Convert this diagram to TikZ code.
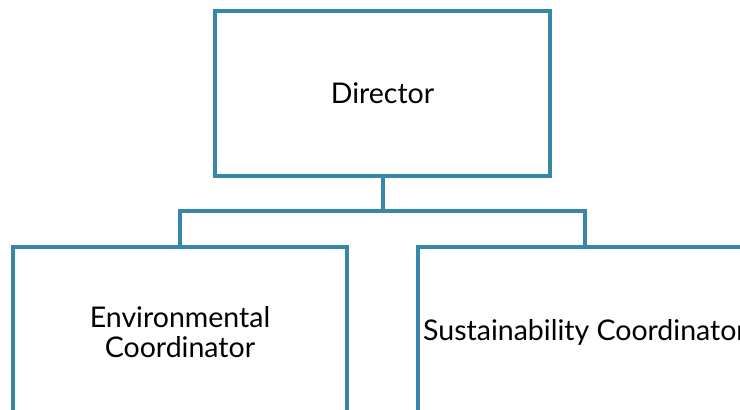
\documentclass[tikz,border=0pt]{standalone}
\usepackage{fontspec}
\setmainfont{Lato}
\definecolor{chartblue}{RGB}{54,135,168}
\tikzset{
  chart-line/.style={
    line width=4pt,
    draw=chartblue
  },
  chart-box/.style={
    chart-line,
    rectangle,
    fill=white,
    inner sep=0pt,
    align=center,
    font=\fontsize{28.5}{30}\selectfont
  },
  top-box/.style={chart-box, minimum width=335pt, minimum height=165pt},
  sub-box/.style={chart-box, minimum width=334pt, minimum height=170pt}
}
\begin{document}
\begin{tikzpicture}[x=1pt, y=-1pt]
  \useasboundingbox (0,0) rectangle (740,410);
  \clip (0,0) rectangle (740,410);

  \node[top-box] (director) at (382.5,93.5) {Director};
  \node[sub-box] (envcoord) at (180,332) {Environmental\\Coordinator};
  \node[sub-box] (suscoord) at (585,332) {Sustainability Coordinator};

  % branch point under the director
  \coordinate (branch) at (382.5,211);
  \draw[chart-line] (director.south) -- (branch);
  \draw[chart-line] (envcoord.north) |- (branch) -| (suscoord.north);
\end{tikzpicture}
\end{document}
